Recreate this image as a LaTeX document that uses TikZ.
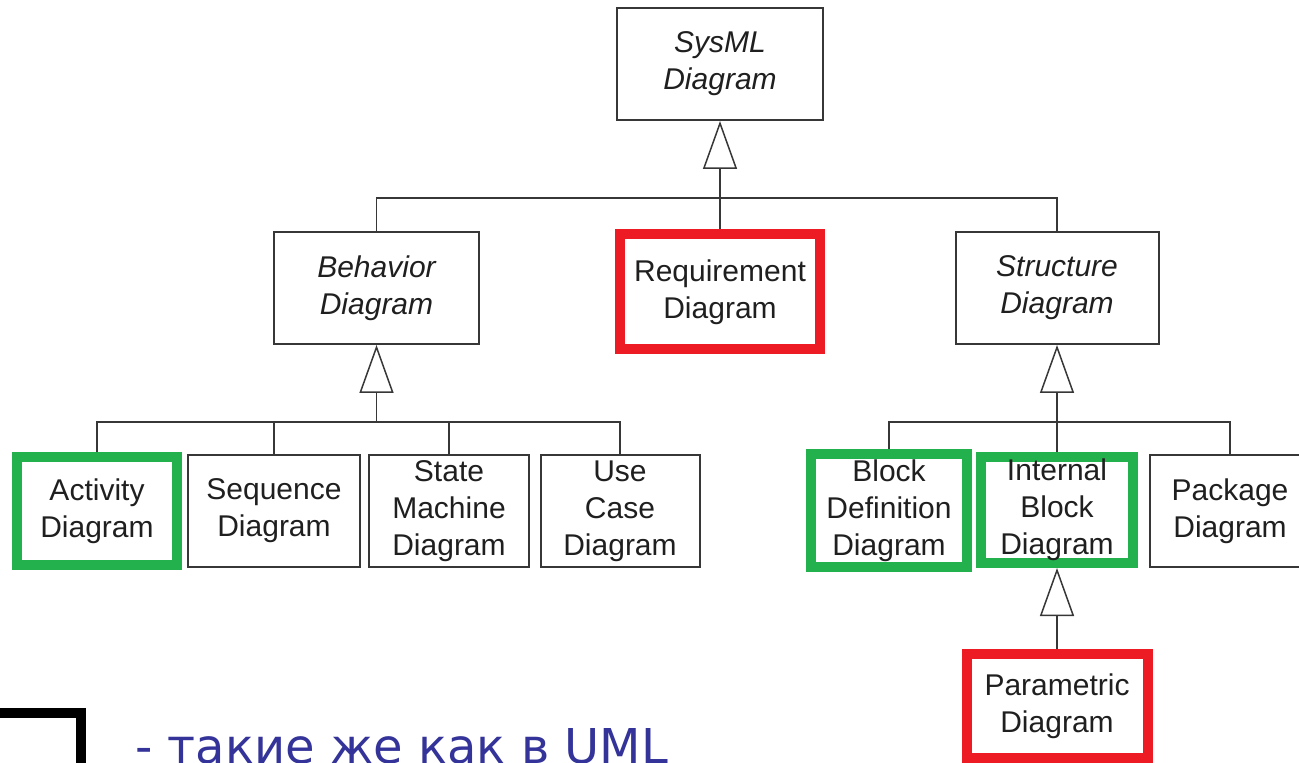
\documentclass[tikz,border=0pt]{standalone}
\usepackage{fontspec}
\setmainfont{Liberation Sans}
\newfontfamily\notefont{DejaVu Sans}
\usetikzlibrary{arrows.meta}
\definecolor{hlred}{RGB}{237,28,36}
\definecolor{hlgreen}{RGB}{34,177,76}
\definecolor{edgegray}{RGB}{55,55,55}
\definecolor{notecol}{RGB}{51,51,153}
\begin{document}
\begin{tikzpicture}[x=0.5pt,y=-0.5pt,
  size/.style 2 args={minimum width={#1*0.5pt}, minimum height={#2*0.5pt}},
  box/.style={draw=edgegray, line width=1pt, inner sep=0pt, align=center,
    text=black!88, font=\fontsize{15}{18.5}\selectfont,
    execute at begin node={\vspace*{3pt}}},
  abstract/.style={box, font=\fontsize{15}{18.5}\selectfont\itshape},
  redbox/.style={box, draw=hlred, line width=5pt},
  greenbox/.style={box, draw=hlgreen, line width=5pt},
  link/.style={draw=edgegray, line width=0.75pt},
  gen/.style={link, -{Triangle[open, length=24pt, width=17pt]}},
]
\useasboundingbox (0,0) rectangle (1299,763);

% top level
\node[abstract, size={206}{112}] (sysml) at (720,64) {SysML\\Diagram};
\node[abstract, size={205}{112}] (behavior) at (376.5,288) {Behavior\\Diagram};
\node[redbox, size={200}{115}] (req) at (720,292) {Requirement\\Diagram};
\node[abstract, size={203}{112}] (structure) at (1057,288) {Structure\\Diagram};

% behaviour diagrams
\node[greenbox, size={160}{107}] (activity) at (97,511) {Activity\\Diagram};
\node[box, size={172}{112}] (sequence) at (274,511) {Sequence\\Diagram};
\node[box, size={160}{112}] (state) at (449,511) {State\\Machine\\Diagram};
\node[box, size={159}{112}] (usecase) at (620,511) {Use\\Case\\Diagram};

% structure diagrams
\node[greenbox, size={156}{113}] (blockdef) at (889,510.5) {Block\\Definition\\Diagram};
\node[greenbox, size={152}{106}] (internal) at (1057,510) {Internal\\Block\\Diagram};
\node[box, size={160}{112}] (package) at (1230,511) {Package\\Diagram};
\node[redbox, size={181}{104}] (parametric) at (1057,706) {Parametric\\Diagram};

% generalization tree: top
\coordinate (topbus) at (720,198);
\draw[gen] (req.north) -- (sysml.south);
\draw[link] (behavior.north) |- (topbus) -| (structure.north);

% generalization tree: behaviour
\coordinate (lbus) at (376.5,422);
\draw[gen] (lbus) -- (behavior.south);
\draw[link] (activity.north) |- (lbus) -| (usecase.north);
\draw[link] (sequence.north) -- (sequence.north |- lbus);
\draw[link] (state.north) -- (state.north |- lbus);

% generalization tree: structure
\coordinate (rbus) at (1057,422);
\draw[gen] (internal.north) -- (structure.south);
\draw[link] (blockdef.north) |- (rbus) -| (package.north);
\draw[gen] (parametric.north) -- (internal.south);

% legend
\node[draw=black, line width=5pt, inner sep=0pt, minimum width=70pt, minimum height=60pt,
  anchor=north east] (legendbox) at (86,708) {};
\node[anchor=base west, inner sep=0pt, text=notecol,
  font=\notefont\fontsize{24}{28}\selectfont] (legendtext) at (135,763) {- такие же как в UML};
\end{tikzpicture}
\end{document}
